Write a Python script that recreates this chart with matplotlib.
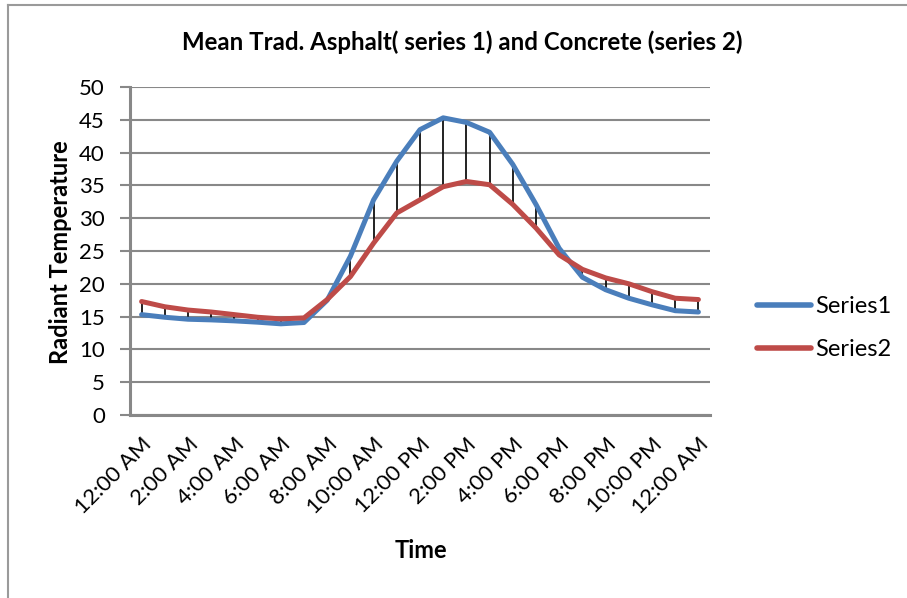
import numpy as np
import matplotlib.pyplot as plt
from matplotlib.lines import Line2D

plt.rcParams['font.family'] = ['Lato', 'DejaVu Sans']

# hourly readings, 12:00 AM to 12:00 AM next day
hours = list(range(25))
series1 = [15.3, 14.9, 14.6, 14.5, 14.35, 14.15, 13.9, 14.1, 17.5, 24.2, 32.8, 38.7,
           43.5, 45.3, 44.6, 43.1, 38.2, 32.1, 25.4, 21.0, 19.1, 17.8, 16.8, 15.9, 15.7]
series2 = [17.3, 16.5, 16.0, 15.7, 15.3, 14.9, 14.65, 14.8, 17.6, 21.1, 26.2, 30.8,
           32.8, 34.8, 35.6, 35.1, 32.1, 28.5, 24.4, 22.2, 20.9, 20.0, 18.8, 17.8, 17.6]
tick_labels = ['12:00 AM', '2:00 AM', '4:00 AM', '6:00 AM', '8:00 AM', '10:00 AM',
               '12:00 PM', '2:00 PM', '4:00 PM', '6:00 PM', '8:00 PM', '10:00 PM',
               '12:00 AM']

grid_col = '#888888'
blue = '#4A7EBB'
red = '#BE4B48'

fig = plt.figure(figsize=(9.07, 5.98), dpi=100)
ax = fig.add_axes([130/907, 1-415/598, 580/907, 328/598])

# high-low (drop) lines between the two series
ax.vlines(hours, np.minimum(series1, series2), np.maximum(series1, series2),
          color='#111111', lw=1.3, zorder=2)
ax.plot(hours, series1, color=blue, lw=3.6, label='Series1', zorder=3,
        solid_capstyle='round', solid_joinstyle='round')
ax.plot(hours, series2, color=red, lw=3.6, label='Series2', zorder=3,
        solid_capstyle='round', solid_joinstyle='round')

ax.set_xlim(-0.5, 24.5)
ax.set_ylim(0, 50)
ax.set_yticks(range(0, 51, 5))
ax.yaxis.grid(True, color=grid_col, lw=1.5)
ax.set_axisbelow(True)
ax.set_xticks(hours[::2])
ax.set_xticklabels(tick_labels, rotation=45, ha='right', rotation_mode='anchor')
ax.tick_params(axis='x', length=0, labelsize=16, pad=14)
ax.tick_params(axis='y', length=7, width=1.5, color=grid_col, labelsize=16, pad=11)

for s in ['top', 'right']:
    ax.spines[s].set_visible(False)
for s in ['left', 'bottom']:
    ax.spines[s].set_color(grid_col)
    ax.spines[s].set_linewidth(2.2)

fig.text(60/907, 1-252/598, 'Radiant Temperature', rotation=90, fontsize=17,
         fontweight='bold', ha='center', va='center')
fig.text(421/907, 1-551/598, 'Time', fontsize=17, fontweight='bold',
         ha='center', va='center')
fig.text(462/907, 1-42/598, 'Mean Trad. Asphalt( series 1) and Concrete (series 2)',
         fontsize=17.3, fontweight='bold', ha='center', va='center')

leg = ax.legend(loc='center left', bbox_to_anchor=(757/907, 1-328/598),
                bbox_transform=fig.transFigure, frameon=False, fontsize=17,
                handlelength=2.3, handletextpad=0.17, labelspacing=0.95,
                borderpad=0, borderaxespad=0)
for h in leg.get_lines():
    h.set_linewidth(4)

# chart border (cropped on right and bottom)
fig.add_artist(Line2D([8/907, 8/907], [0, 1-4.5/598], color='#9a9a9a', lw=1.5,
                      transform=fig.transFigure))
fig.add_artist(Line2D([8/907, 1], [1-4.5/598, 1-4.5/598], color='#9a9a9a', lw=1.5,
                      transform=fig.transFigure))

fig.savefig('out.png', dpi=100)
